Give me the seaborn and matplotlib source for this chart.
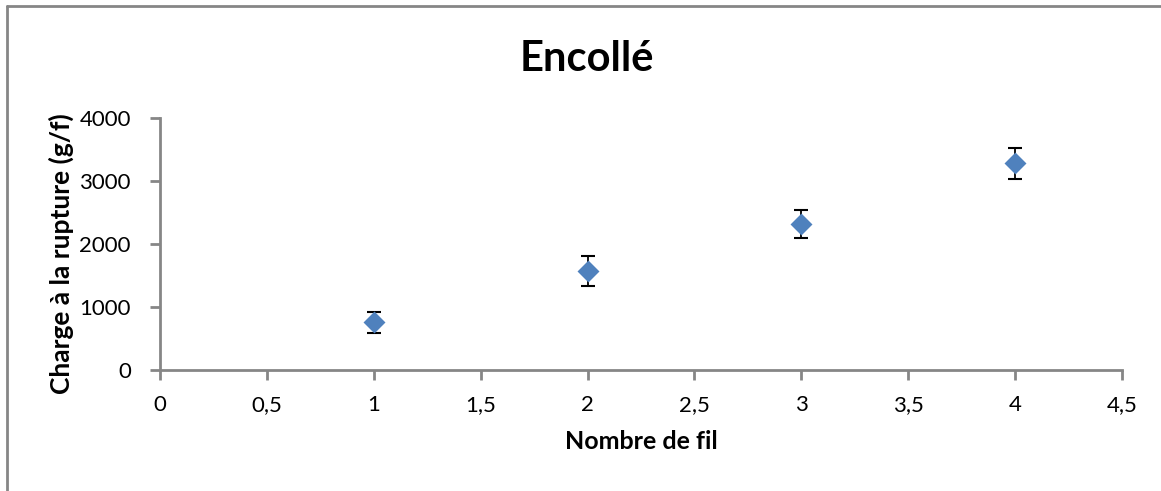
import matplotlib
matplotlib.use("Agg")
import matplotlib.pyplot as plt
import seaborn as sns
import pandas as pd
from matplotlib.lines import Line2D
from matplotlib.ticker import MultipleLocator, FuncFormatter

# Breaking load per number of yarns, with standard deviation
nombre_fil = [1, 2, 3, 4]
charge = [760, 1570, 2320, 3280]
ecart = [165, 238, 218, 248]

title = "Encollé"
xlabel = "Nombre de fil"
ylabel = "Charge à la rupture (g/f)"

sns.set_theme(style="white")
plt.rcParams["font.family"] = ["Lato", "DejaVu Sans"]
plt.rcParams["text.color"] = "black"
plt.rcParams["axes.labelcolor"] = "black"

df = pd.DataFrame({"fil": nombre_fil, "charge": charge, "ecart": ecart})

fig = plt.figure(figsize=(11.61, 4.91), dpi=100)
ax = fig.add_axes([0.1378, 0.2464, 0.9664 - 0.1378, 0.7597 - 0.2464])

axis_grey = "#868686"
blue = "#4F81BD"

ax.errorbar(df["fil"], df["charge"], yerr=df["ecart"], fmt="none",
            ecolor="black", elinewidth=1.3, capsize=5, capthick=1.5, zorder=2)
sns.scatterplot(data=df, x="fil", y="charge", marker="D", s=125,
                color=blue, edgecolor=blue, linewidth=0, ax=ax, zorder=3)

ax.set_xlim(0, 4.5)
ax.set_ylim(0, 4000)
ax.xaxis.set_major_locator(MultipleLocator(0.5))
ax.yaxis.set_major_locator(MultipleLocator(1000))

def comma(v, pos):
    s = f"{v:g}"
    return s.replace(".", ",")

ax.xaxis.set_major_formatter(FuncFormatter(comma))
ax.yaxis.set_major_formatter(FuncFormatter(lambda v, p: f"{v:.0f}"))

for side in ("top", "right"):
    ax.spines[side].set_visible(False)
for side in ("left", "bottom"):
    ax.spines[side].set_color(axis_grey)
    ax.spines[side].set_linewidth(2)

ax.tick_params(axis="both", which="major", direction="out", length=7,
               width=2, color=axis_grey, labelsize=16, labelcolor="black",
               bottom=True, left=True)
ax.tick_params(axis="x", pad=11)
ax.tick_params(axis="y", pad=14)

ax.set_xlabel(xlabel, fontsize=18, fontweight="bold", labelpad=11)
ax.set_ylabel(ylabel, fontsize=19, fontweight="bold", labelpad=4)
ax.yaxis.set_label_coords(-0.089, 0.46)

# chart title, centred on the whole chart area
fig.text(0.5056, 0.855, title, fontsize=30, fontweight="bold",
         ha="center", va="baseline")

# chart area border (left and top edges)
fig.add_artist(Line2D([0.0062, 0.0062], [0.0, 0.988], transform=fig.transFigure,
                      color=axis_grey, linewidth=2))
fig.add_artist(Line2D([0.0062, 1.0], [0.988, 0.988], transform=fig.transFigure,
                      color=axis_grey, linewidth=2))

fig.savefig("out.png", dpi=100)
